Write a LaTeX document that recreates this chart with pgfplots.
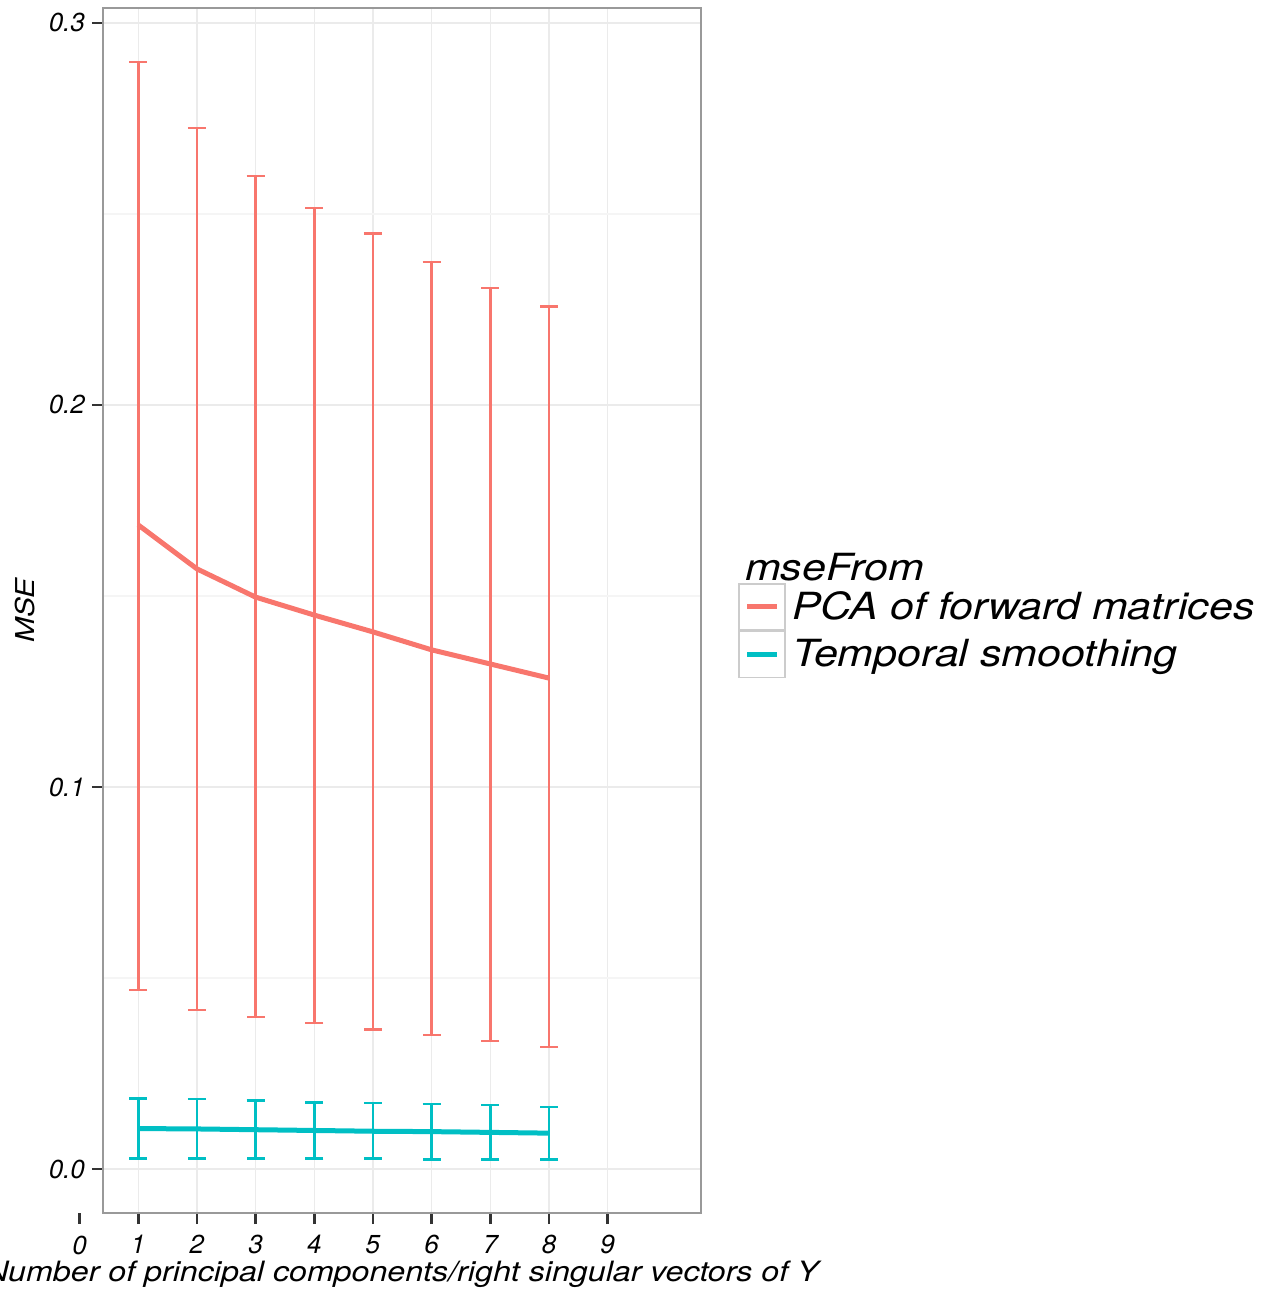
\documentclass[border=0pt]{standalone}
\usepackage{fontspec}
\setmainfont{TeX Gyre Heros}[FakeStretch=1.15]
\newfontfamily\plainfont{TeX Gyre Heros}
\usepackage{pgfplots}
\usepackage{pgfplotstable}
\pgfplotsset{compat=1.18}
\usetikzlibrary{calc}

\definecolor{pcared}{HTML}{F8766D}
\definecolor{tsteal}{HTML}{00BFC4}
\definecolor{gridmaj}{HTML}{EBEBEB}
\definecolor{gridmin}{HTML}{F5F5F5}
\definecolor{panelb}{HTML}{999999}
\definecolor{keyb}{HTML}{CCCCCC}
\definecolor{tickc}{HTML}{333333}

% mean, lower and upper end of the error bar
\pgfplotstableread{
x y lo hi
1 0.1686 0.0469 0.2898
2 0.1571 0.0416 0.2725
3 0.1497 0.0398 0.2599
4 0.1450 0.0382 0.2516
5 0.1406 0.0366 0.2448
6 0.1359 0.0351 0.2374
7 0.1322 0.0335 0.2306
8 0.1285 0.0319 0.2257
}\pcadata

\pgfplotstableread{
x y lo hi
1 0.0106 0.0028 0.0185
2 0.0105 0.0028 0.0183
3 0.0103 0.0027 0.0180
4 0.0101 0.0027 0.0175
5 0.0099 0.0027 0.0173
6 0.0098 0.0025 0.0170
7 0.0096 0.0025 0.0168
8 0.0094 0.0025 0.0162
}\tsdata

\newcommand{\ticklab}{\plainfont\fontsize{13}{15}\selectfont\itshape}
\newcommand{\leglab}{\fontsize{18.7}{22}\selectfont\itshape}

\begin{document}
\begin{tikzpicture}
\begin{axis}[
    name=ax,
    width=299pt, height=602.5pt, scale only axis,
    xmin=0.4, xmax=10.59, ymin=-0.0115, ymax=0.3039,
    xtick={1,...,9}, ytick={0,0.1,0.2,0.3},
    minor ytick={0.05,0.15,0.25},
    xmajorgrids, ymajorgrids, yminorgrids,
    major grid style={gridmaj, line width=0.65pt},
    minor grid style={gridmin, line width=0.65pt},
    axis line style={panelb, line width=1pt},
    tick align=outside, tick pos=left,
    major tick length=5.5pt, minor tick length=0pt,
    every tick/.style={tickc, line width=1.3pt},
    ticklabel style={font=\ticklab},
    xticklabel style={yshift=-2pt},
    /pgf/number format/assume math mode=true,
    yticklabel style={/pgf/number format/.cd, fixed, fixed zerofill, precision=1},
    xlabel={Number of principal components/right singular vectors of Y},
    ylabel={MSE},
    xlabel style={font=\fontsize{14}{16}\selectfont\itshape, at={(axis description cs:0.5,-0.051)}, anchor=center},
    ylabel style={font=\fontsize{13}{15}\selectfont\itshape, at={(axis description cs:-0.13,0.5)}, anchor=center},
    clip=false,
    legend style={at={(axis description cs:1,0.5)}, anchor=west, xshift=15.5pt, yshift=-2.5pt,
        draw=none, fill=none, font=\leglab, row sep=0pt, column sep=3pt,
        nodes={inner sep=0pt}},
    legend cell align=left,
]
\addlegendimage{empty legend}
\addlegendentry{\hspace*{-23.5pt}mseFrom\rule[-4pt]{0pt}{0pt}}

\addplot[pcared, line width=2.5pt, mark=none,
    error bars/.cd, y dir=both, y explicit,
    error bar style={line width=1.3pt},
    error mark options={pcared, rotate=90, line width=1.3pt, mark size=4.5pt},
    /pgfplots/legend image code/.code={
        \draw[keyb, line width=0.8pt, fill=white] (0pt,-11.5pt) rectangle (23pt,11.5pt);
        \draw[pcared, line width=2.5pt] (4pt,0pt) -- (19pt,0pt);}]
    table[x=x, y=y, y error plus expr=\thisrow{hi}-\thisrow{y}, y error minus expr=\thisrow{y}-\thisrow{lo}] {\pcadata};
\addlegendentry{PCA of forward matrices}

\addplot[tsteal, line width=2.5pt, mark=none,
    error bars/.cd, y dir=both, y explicit,
    error bar style={line width=1.3pt},
    error mark options={tsteal, rotate=90, line width=1.3pt, mark size=4.5pt},
    /pgfplots/legend image code/.code={
        \draw[keyb, line width=0.8pt, fill=white] (0pt,-11.5pt) rectangle (23pt,11.5pt);
        \draw[tsteal, line width=2.5pt] (4pt,0pt) -- (19pt,0pt);}]
    table[x=x, y=y, y error plus expr=\thisrow{hi}-\thisrow{y}, y error minus expr=\thisrow{y}-\thisrow{lo}] {\tsdata};
\addlegendentry{Temporal smoothing}

% the 0 tick sits left of the panel
\draw[tickc, line width=1.3pt] (axis cs:0,-0.0115) -- ++(0pt,-5.5pt)
    node[anchor=north, black, font=\ticklab, inner sep=0.333em, yshift=-2pt] {0};
\end{axis}
\pgfresetboundingbox
\path ($(ax.south west)+(-51.5pt,-39pt)$) rectangle ($(ax.north east)+(285.5pt,4pt)$);
\end{tikzpicture}
\end{document}
